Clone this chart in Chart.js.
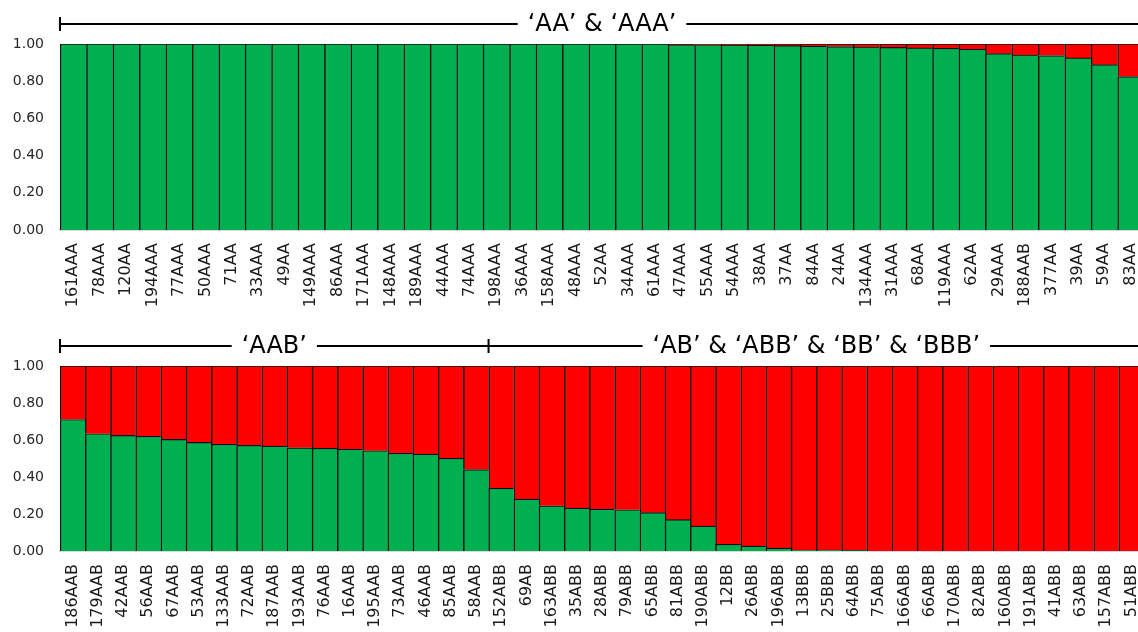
<!DOCTYPE html>
<html>
<head>
<meta charset="utf-8">
<script src="https://cdn.jsdelivr.net/npm/chart.js@4.4.0/dist/chart.umd.min.js"></script>
<style>
  html, body { margin: 0; padding: 0; background: #fff; overflow: hidden; }
  #wrap { width: 1138px; height: 632px; overflow: hidden; position: relative; }
  canvas { display: block; }
</style>
</head>
<body>
<div id="wrap">
  <canvas id="topChart" width="1144" height="316"></canvas>
  <canvas id="bottomChart" width="1144" height="316"></canvas>
</div>
<script>
// =========================================
// 1. DATA
// =========================================

const yTicks = [0, 0.2, 0.4, 0.6, 0.8, 1.0];

// Panel atas
const topLabels = ['161AAA', '78AAA', '120AA', '194AAA', '77AAA', '50AAA', '71AA', '33AAA', '49AA', '149AAA',
  '86AAA', '171AAA', '148AAA', '189AAA', '44AAA', '74AAA', '198AAA', '36AAA', '158AAA', '48AAA',
  '52AA', '34AAA', '61AAA', '47AAA', '55AAA', '54AAA', '38AA', '37AA', '84AA', '24AA',
  '134AAA', '31AAA', '68AA', '119AAA', '62AA', '29AAA', '188AAB', '377AA', '39AA', '59AA', '83AA'];
const topGreen = [1, 1, 1, 1, 1, 1, 1, 1, 1, 1,
  1, 1, 1, 1, 1, 1, 1, 1, 1, 1,
  1, 1, 1, 0.997, 0.996, 0.995, 0.994, 0.991, 0.988, 0.986,
  0.984, 0.982, 0.979, 0.977, 0.973, 0.948, 0.941, 0.938, 0.925, 0.889, 0.825];
const topRed = [0, 0, 0, 0, 0, 0, 0, 0, 0, 0,
  0, 0, 0, 0, 0, 0, 0, 0, 0, 0,
  0, 0, 0, 0.003, 0.004, 0.005, 0.006, 0.009, 0.012, 0.014,
  0.016, 0.018, 0.021, 0.023, 0.027, 0.052, 0.059, 0.062, 0.075, 0.111, 0.175];
const topGroupNames = ['\u2018AA\u2019 & \u2018AAA\u2019'];
const topGroupStarts = [0];
const topGroupEnds = [40];

// Panel bawah
const bottomLabels = ['186AAB', '179AAB', '42AAB', '56AAB', '67AAB', '53AAB', '133AAB', '72AAB', '187AAB', '193AAB',
  '76AAB', '16AAB', '195AAB', '73AAB', '46AAB', '85AAB', '58AAB', '152ABB', '69AB', '163ABB',
  '35ABB', '28ABB', '79ABB', '65ABB', '81ABB', '190ABB', '12BB', '26ABB', '196ABB', '13BBB',
  '25BBB', '64ABB', '75ABB', '166ABB', '66ABB', '170ABB', '82ABB', '160ABB', '191ABB', '41ABB',
  '63ABB', '157ABB', '51ABB'];
const bottomGreen = [0.711, 0.634, 0.625, 0.620, 0.603, 0.587, 0.577, 0.571, 0.567, 0.558,
  0.555, 0.550, 0.542, 0.528, 0.524, 0.501, 0.440, 0.339, 0.280, 0.244,
  0.232, 0.226, 0.223, 0.208, 0.170, 0.135, 0.036, 0.027, 0.016, 0.005,
  0.005, 0.003, 0, 0, 0, 0, 0, 0, 0, 0,
  0, 0, 0];
const bottomRed = [0.289, 0.366, 0.375, 0.380, 0.397, 0.413, 0.423, 0.429, 0.433, 0.442,
  0.445, 0.450, 0.458, 0.472, 0.476, 0.499, 0.560, 0.661, 0.720, 0.756,
  0.768, 0.774, 0.777, 0.792, 0.830, 0.865, 0.964, 0.973, 0.984, 0.995,
  0.995, 0.997, 1, 1, 1, 1, 1, 1, 1, 1,
  1, 1, 1];
const bottomGroupNames = ['\u2018AAB\u2019', '\u2018AB\u2019 & \u2018ABB\u2019 & \u2018BB\u2019 & \u2018BBB\u2019'];
const bottomGroupStarts = [0, 17];
const bottomGroupEnds = [16, 42];

// =========================================
// 2. PLUGIN: garis kelompok di atas grafik
// =========================================

const groupBracket = {
  id: 'groupBracket',
  afterDraw(chart, args, opts) {
    const ctx = chart.ctx;
    const x = chart.scales.x;
    const band = x.getPixelForValue(1) - x.getPixelForValue(0);
    const y = chart.chartArea.top - 20;

    ctx.save();
    ctx.strokeStyle = '#000';
    ctx.fillStyle = '#000';
    ctx.lineWidth = 2;
    ctx.font = '24px "DejaVu Sans"';
    ctx.textAlign = 'center';
    ctx.textBaseline = 'middle';

    opts.names.forEach((name, i) => {
      const x0 = x.getPixelForValue(opts.starts[i]) - band / 2;
      const x1 = x.getPixelForValue(opts.ends[i]) + band / 2;
      const mid = (x0 + x1) / 2;
      const half = ctx.measureText(name).width / 2 + 10;

      ctx.beginPath();
      ctx.moveTo(x0, y);
      ctx.lineTo(mid - half, y);
      ctx.moveTo(mid + half, y);
      ctx.lineTo(x1, y);
      // penanda awal kelompok
      ctx.moveTo(x0, y - 7);
      ctx.lineTo(x0, y + 7);
      ctx.stroke();

      ctx.fillText(name, mid, y + 1);
    });
    ctx.restore();
  }
};

// =========================================
// 3. FUNGSI PEMBUAT GRAFIK
// =========================================

function makePanel(canvasId, labels, green, red, names, starts, ends, padTop, axisHeight) {
  const barStyle = {
    borderColor: '#111',
    borderWidth: { top: 1.2, left: 1.5, right: 0, bottom: 0 },
    borderSkipped: false,
    categoryPercentage: 1.0,
    barPercentage: 1.0
  };

  return new Chart(document.getElementById(canvasId), {
    type: 'bar',
    data: {
      labels: labels,
      datasets: [
        Object.assign({ label: 'A', data: green, backgroundColor: '#00B050' }, barStyle),
        Object.assign({ label: 'B', data: red, backgroundColor: '#FF0000' }, barStyle)
      ]
    },
    options: {
      responsive: false,
      animation: false,
      layout: { padding: { top: padTop, left: 0, right: 0, bottom: 0 } },
      plugins: {
        legend: { display: false },
        tooltip: { enabled: false },
        groupBracket: { names: names, starts: starts, ends: ends }
      },
      scales: {
        x: {
          stacked: true,
          grid: { display: false, drawTicks: false },
          border: { display: true, color: '#d9d9d9', width: 2 },
          ticks: {
            autoSkip: false,
            maxRotation: 90,
            minRotation: 90,
            padding: 13,
            color: '#1a1a1a',
            font: { family: 'DejaVu Sans', size: 16 }
          },
          afterFit: (scale) => {
            scale.height = axisHeight;
            scale.paddingLeft = 0;
            scale.paddingRight = 0;
          }
        },
        y: {
          stacked: true,
          min: 0,
          max: 1,
          afterBuildTicks: (scale) => { scale.ticks = yTicks.map(v => ({ value: v })); },
          grid: { display: false, drawTicks: false },
          border: { display: false },
          ticks: {
            padding: 16,
            color: '#262626',
            font: { family: 'DejaVu Sans', size: 14 },
            callback: (v) => Number(v).toFixed(2)
          },
          afterFit: (scale) => {
            scale.width = 60;
            scale.paddingTop = 0;
            scale.paddingBottom = 0;
          }
        }
      }
    },
    plugins: [groupBracket]
  });
}

makePanel('topChart', topLabels, topGreen, topRed,
  topGroupNames, topGroupStarts, topGroupEnds, 44, 86);
makePanel('bottomChart', bottomLabels, bottomGreen, bottomRed,
  bottomGroupNames, bottomGroupStarts, bottomGroupEnds, 50, 81);
</script>
</body>
</html>
